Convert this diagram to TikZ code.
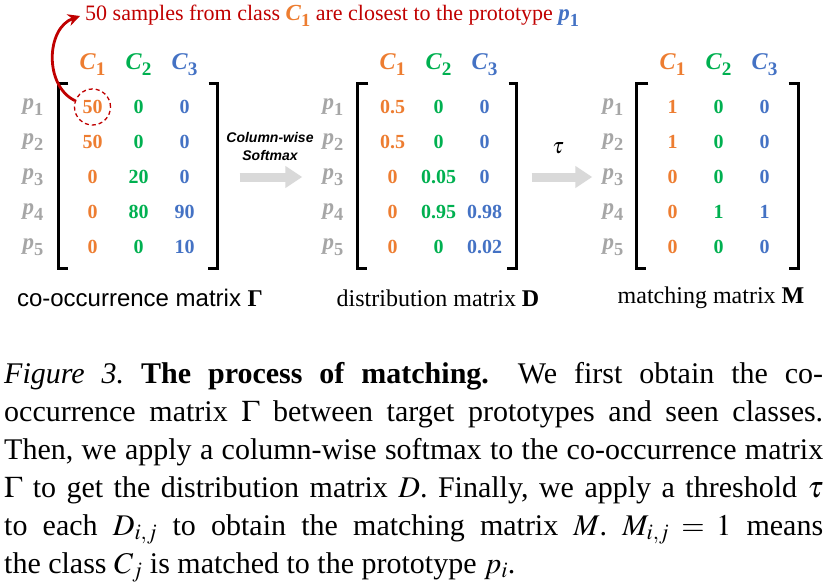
\documentclass[tikz,border=0pt]{standalone}
\usepackage{mathptmx}
\usepackage{graphicx}
\usepackage{fontspec}
\setmainfont{Liberation Serif}
\setsansfont{Liberation Sans}
\usetikzlibrary{arrows.meta, positioning, matrix}
\definecolor{clsone}{HTML}{ED7D31}
\definecolor{clstwo}{HTML}{00B050}
\definecolor{clsthree}{HTML}{4472C4}
\definecolor{protogray}{HTML}{A6A6A6}
\definecolor{noteRed}{HTML}{C00000}
\definecolor{arrowgray}{HTML}{D9D9D9}

\newcommand{\protolab}[1]{\textbf{\textit{p}}\raisebox{-0.25em}{\scalebox{0.8}{\textbf{#1}}}}
\newcommand{\classlab}[1]{\textbf{\textit{C}}\raisebox{-0.25em}{\scalebox{0.8}{\textbf{#1}}}}

\begin{document}
\begin{tikzpicture}[
    x=1pt, y=-1pt,
    pmat/.style={matrix of nodes, column sep=0pt, row sep=0pt,
                 nodes={anchor=center, minimum width=46pt, minimum height=35pt, inner sep=0pt,
                        font=\fontsize{20}{24}\selectfont\bfseries},
                 column 1/.style={nodes={text=protogray, minimum width=45pt, font=\fontsize{23}{24}\selectfont}},
                 column 2/.style={nodes={text=clsone}},
                 column 3/.style={nodes={text=clstwo}},
                 column 4/.style={nodes={text=clsthree}},
                 row 1/.style={nodes={font=\fontsize{24}{26}\selectfont}}},
    bracket/.style={line width=3pt, line join=miter},
    ring/.style={draw=noteRed, circle, line width=1.3pt, dash pattern=on 4pt off 3pt,
                 minimum size=36pt, inner sep=0pt},
    pointer/.style={-{Stealth[length=12pt, width=12pt]}, line width=2.8pt, draw=noteRed},
    flow/.style={-{Triangle[length=17pt, width=21pt]}, line width=9pt, draw=arrowgray},
    oplab/.style={font=\fontsize{14}{18}\selectfont\sffamily\bfseries\itshape, align=center},
    matlab/.style={font=\fontsize{24}{28}\selectfont},
    notetext/.style={font=\fontsize{22}{26}\selectfont, text=noteRed, inner sep=5pt},
    captext/.style={text width=819pt, align=justify, inner sep=0pt, font=\fontsize{30}{38}\selectfont\frenchspacing},
]
    \useasboundingbox (0,0) rectangle (827,586);

    % Matrix 1: co-occurrence
    \matrix[pmat] (gam) at (109,156) {
                     &[14pt] \classlab{1} & \classlab{2} & \classlab{3} \\[7pt]
        \protolab{1} & 50 & 0  & 0  \\
        \protolab{2} & 50 & 0  & 0  \\
        \protolab{3} & 0  & 20 & 0  \\
        \protolab{4} & 0  & 80 & 90 \\
        \protolab{5} & 0  & 0  & 10 \\
    };

    % Matrix 2: distribution
    \matrix[pmat] (dis) at (409,156) {
                     &[14pt] \classlab{1} & \classlab{2} & \classlab{3} \\[7pt]
        \protolab{1} & 0.5 & 0    & 0    \\
        \protolab{2} & 0.5 & 0    & 0    \\
        \protolab{3} & 0   & 0.05 & 0    \\
        \protolab{4} & 0   & 0.95 & 0.98 \\
        \protolab{5} & 0   & 0    & 0.02 \\
    };

    % Matrix 3: matching
    \matrix[pmat] (mat) at (689,156) {
                     &[14pt] \classlab{1} & \classlab{2} & \classlab{3} \\[7pt]
        \protolab{1} & 1 & 0 & 0 \\
        \protolab{2} & 1 & 0 & 0 \\
        \protolab{3} & 0 & 0 & 0 \\
        \protolab{4} & 0 & 1 & 1 \\
        \protolab{5} & 0 & 0 & 0 \\
    };

    % Brackets
    \draw[bracket] ([shift={(-1pt,6pt)}]gam-2-2.north west) -| ([shift={(-11pt,-4pt)}]gam-6-2.south west) -- ++(10pt,0);
    \draw[bracket] ([shift={(1pt,6pt)}]gam-2-4.north east) -| ([shift={(10pt,-4pt)}]gam-6-4.south east) -- ++(-10pt,0);
    \draw[bracket] ([shift={(-1pt,6pt)}]dis-2-2.north west) -| ([shift={(-12pt,-4pt)}]dis-6-2.south west) -- ++(10pt,0);
    \draw[bracket] ([shift={(1pt,6pt)}]dis-2-4.north east) -| ([shift={(9pt,-4pt)}]dis-6-4.south east) -- ++(-10pt,0);
    \draw[bracket] ([shift={(-1pt,6pt)}]mat-2-2.north west) -| ([shift={(-13pt,-4pt)}]mat-6-2.south west) -- ++(10pt,0);
    \draw[bracket] ([shift={(1pt,6pt)}]mat-2-4.north east) -| ([shift={(11pt,-4pt)}]mat-6-4.south east) -- ++(-10pt,0);

    % Annotation
    \node[ring] (circ) at (gam-2-2) {};
    \node[notetext, anchor=west] (note) at (80,16)
        {50 samples from class \textcolor{clsone}{\fontsize{23}{26}\selectfont\classlab{1}} are closest to the prototype \textcolor{clsthree}{\fontsize{23}{26}\selectfont\protolab{1}}};
    \draw[pointer] (circ.160) .. controls (44,86) and (46,28) .. (note.west);

    % Operations
    \draw[flow] ([xshift=32pt]gam-4-4.east) -- ([xshift=-8pt]dis-4-1.west);
    \node[oplab] (soft) at (270,146) {Column-wise\\Softmax};
    \draw[flow] ([xshift=24pt]dis-4-4.east) -- ([xshift=2pt]mat-4-1.west);
    \node[font=\fontsize{22}{24}\selectfont] (tau) at (558,148) {$\tau$};

    % Matrix names
    \node[matlab] (gamlab) at (140,298) {\sffamily co-occurrence matrix \textrm{\bfseries Γ}};
    \node[matlab] (dislab) at (438,298) {distribution matrix \textbf{D}};
    \node[matlab] (matlab) at (711,298) {matching matrix \textbf{M}};

    % Caption
    \node[captext, anchor=north west] (cap) at (4,362)
        {\textit{Figure 3.} \textbf{The process of matching.}\hspace{0.4em} We first obtain the co-\linebreak
         occurrence matrix $\Gamma$ between target prototypes and seen classes.\linebreak
         Then, we apply a column-wise softmax to the co-occurrence matrix\linebreak
         $\Gamma$ to get the distribution matrix $D$. Finally, we apply a threshold $\tau$\linebreak
         to each $D_{i,j}$ to obtain the matching matrix $M$. $M_{i,j}=1$ means\linebreak
         the class $C_j$ is matched to the prototype $p_i$.};
\end{tikzpicture}
\end{document}
